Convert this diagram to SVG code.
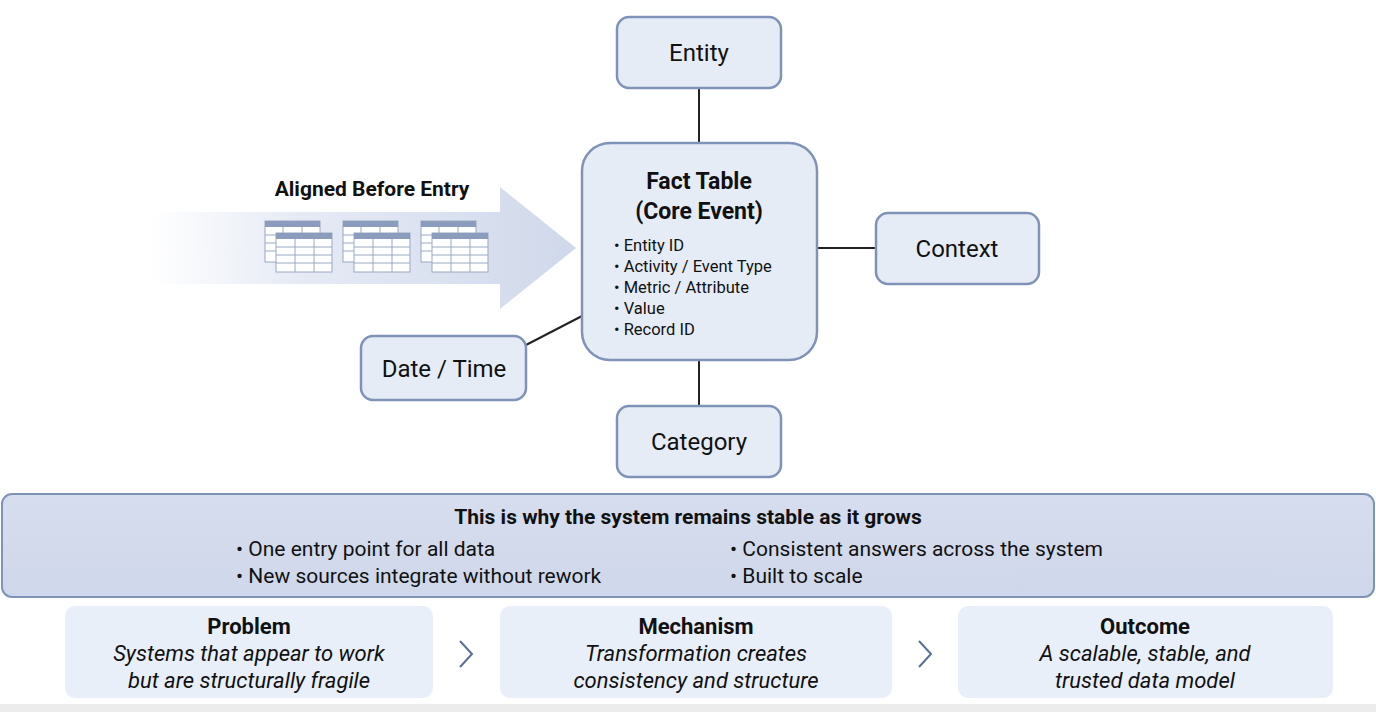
<svg xmlns="http://www.w3.org/2000/svg" width="1376" height="712" viewBox="0 0 1376 712">
<style>
text{font-family:Roboto,"Liberation Sans",sans-serif;fill:#111}
.node{fill:#e6ecf6;stroke:#7f93b8;stroke-width:2.5}
.lbl{font-size:24px;text-anchor:middle}
.conn{stroke:#222;stroke-width:2;fill:none}
.bul{font-size:16.5px}
.card{fill:#e9eff8}
.ct{font-size:22px;font-weight:bold;text-anchor:middle}
.ci{font-size:22px;font-style:italic;text-anchor:middle}
.tb{fill:#fff;stroke:#9aa8c2;stroke-width:1}
.th{fill:#8c9cbc}
</style>
<defs>
<linearGradient id="ag" x1="0" x2="1" y1="0" y2="0">
<stop offset="0" stop-color="#dfe5f2" stop-opacity="0"/>
<stop offset="0.35" stop-color="#dfe5f2" stop-opacity="0.8"/>
<stop offset="1" stop-color="#cfd8ea"/>
</linearGradient>
<linearGradient id="bg" x1="0" x2="0" y1="0" y2="1">
<stop offset="0" stop-color="#d6ddee"/>
<stop offset="1" stop-color="#cfd7ea"/>
</linearGradient>
<g id="tbl">
<rect class="tb" x="0" y="0" width="55" height="41"/>
<rect class="th" x="0" y="0" width="55" height="6"/>
<path d="M0 14H55M0 22H55M0 30H55M18 6V41M37 6V41" stroke="#9aa8c2" fill="none"/>
<g transform="translate(11,12)">
<rect class="tb" x="0" y="0" width="56" height="39"/>
<rect class="th" x="0" y="0" width="56" height="6"/>
<path d="M0 14H56M0 22H56M0 30H56M19 6V39M38 6V39" stroke="#9aa8c2" fill="none"/>
</g>
</g>
</defs>
<rect width="1376" height="712" fill="#fff"/>
<rect x="0" y="704" width="1376" height="8" fill="#ececec"/>
<g id="arrow">
<path d="M150 212H500V187L576 248L500 309V284H150Z" fill="url(#ag)"/>
<use href="#tbl" x="265" y="221"/>
<use href="#tbl" x="343" y="221"/>
<use href="#tbl" x="421" y="221"/>
<text x="372" y="196" font-size="21" font-weight="bold" text-anchor="middle">Aligned Before Entry</text>
</g>
<g id="connectors">
<line class="conn" x1="699" y1="88" x2="699" y2="143"/>
<line class="conn" x1="699" y1="360" x2="699" y2="406"/>
<line class="conn" x1="817" y1="248" x2="876" y2="248"/>
<line class="conn" x1="582" y1="316" x2="526" y2="345"/>
</g>
<g id="fact">
<rect class="node" x="582" y="143" width="235" height="217" rx="28"/>
<text x="699" y="189" font-size="23" font-weight="bold" text-anchor="middle">Fact Table</text>
<text x="699" y="219" font-size="23" font-weight="bold" text-anchor="middle">(Core Event)</text>
<text class="bul" x="614" y="251">• Entity ID</text>
<text class="bul" x="614" y="272">• Activity / Event Type</text>
<text class="bul" x="614" y="293">• Metric / Attribute</text>
<text class="bul" x="614" y="314">• Value</text>
<text class="bul" x="614" y="335">• Record ID</text>
</g>
<g id="entity"><rect class="node" x="617" y="17" width="164" height="71" rx="12"/><text class="lbl" x="699" y="61">Entity</text></g>
<g id="context"><rect class="node" x="876" y="213" width="163" height="71" rx="12"/><text class="lbl" x="957" y="257">Context</text></g>
<g id="datetime"><rect class="node" x="361" y="336" width="165" height="64" rx="12"/><text class="lbl" x="444" y="377">Date / Time</text></g>
<g id="category"><rect class="node" x="617" y="406" width="164" height="71" rx="12"/><text class="lbl" x="699" y="450">Category</text></g>
<g id="banner">
<rect x="2" y="494" width="1372" height="103" rx="10" fill="url(#bg)" stroke="#7f93b8" stroke-width="2"/>
<text x="688" y="524" font-size="21" font-weight="bold" text-anchor="middle">This is why the system remains stable as it grows</text>
<text x="236" y="556" font-size="21">• One entry point for all data</text>
<text x="236" y="583" font-size="21">• New sources integrate without rework</text>
<text x="730" y="556" font-size="21">• Consistent answers across the system</text>
<text x="730" y="583" font-size="21">• Built to scale</text>
</g>
<g id="problem"><rect class="card" x="65" y="606" width="368" height="92" rx="10"/>
<text class="ct" x="249" y="634">Problem</text>
<text class="ci" x="249" y="661">Systems that appear to work</text>
<text class="ci" x="249" y="688">but are structurally fragile</text></g>
<g id="mechanism"><rect class="card" x="500" y="606" width="392" height="92" rx="10"/>
<text class="ct" x="696" y="634">Mechanism</text>
<text class="ci" x="696" y="661">Transformation creates</text>
<text class="ci" x="696" y="688">consistency and structure</text></g>
<g id="outcome"><rect class="card" x="958" y="606" width="375" height="92" rx="10"/>
<text class="ct" x="1145" y="634">Outcome</text>
<text class="ci" x="1145" y="661">A scalable, stable, and</text>
<text class="ci" x="1145" y="688">trusted data model</text></g>
<g id="chevrons" fill="none" stroke="#5a6f96" stroke-width="2">
<path d="M460 641L472 654L460 667"/>
<path d="M919 641L931 654L919 667"/>
</g>
</svg>
